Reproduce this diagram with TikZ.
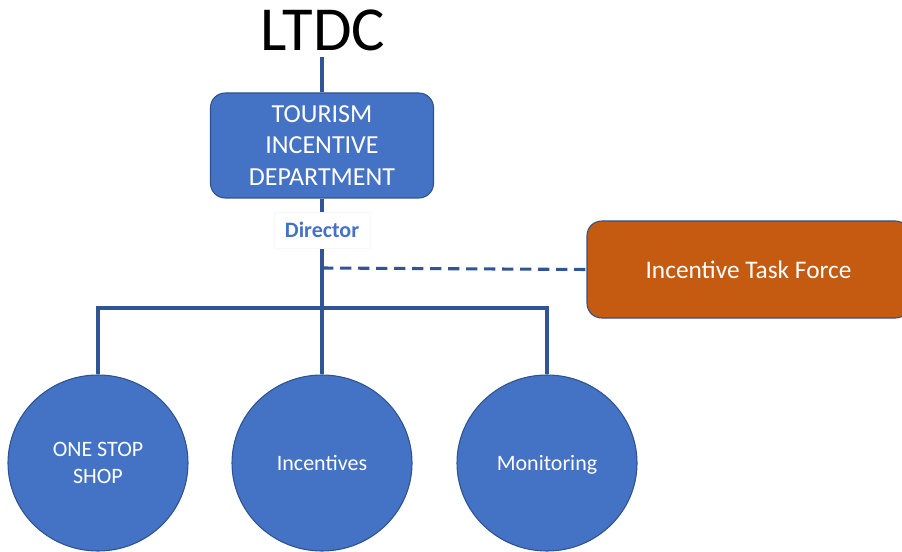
\documentclass[tikz,border=0pt]{standalone}
\usepackage{fontspec}
\setmainfont{Carlito}
\usetikzlibrary{shapes.geometric}
\begin{document}
\definecolor{unitblue}{HTML}{4472C4}
\definecolor{unitedge}{HTML}{2F528F}
\definecolor{linkblue}{HTML}{2F5597}
\definecolor{taskorange}{HTML}{C55A11}
\begin{tikzpicture}[x=0.75pt,y=-0.75pt,
  link/.style={draw=linkblue,line width=2.3pt},
  dashlink/.style={link,dash pattern=on 8.5pt off 5pt},
  deptbox/.style={draw=unitedge,line width=0.8pt,fill=unitblue,rounded corners=11pt,
    minimum width=223*0.75pt,minimum height=105*0.75pt,text=white,align=center,
    font=\fontsize{19.5}{23.5}\selectfont},
  taskbox/.style={draw=unitedge,line width=0.8pt,fill=taskorange,rounded corners=11pt,
    minimum width=323*0.75pt,minimum height=97*0.75pt,text=white,
    font=\fontsize{19}{22}\selectfont},
  unit/.style={ellipse,draw=unitedge,line width=0.8pt,fill=unitblue,
    minimum width=180*0.75pt,minimum height=176*0.75pt,text=white,align=center,
    font=\fontsize{16.5}{20.5}\selectfont},
  oneline/.style={text height=10.6pt,text depth=0pt},
  rolelabel/.style={fill=white,draw=black!3,line width=0.5pt,minimum width=96*0.75pt,
    minimum height=36*0.75pt,text=unitblue,font=\fontsize{16.5}{19}\selectfont\bfseries}]
\useasboundingbox (0,0) rectangle (902,552);

% heading and department
\node[font=\fontsize{47}{52}\selectfont,inner sep=0pt] (ltdc) at (323,30) {LTDC};
\node[deptbox] (dept) at (322,145.5) {TOURISM\\INCENTIVE\\DEPARTMENT};
\coordinate (top) at (322,57);

% side task force
\node[taskbox] (itf) at (748.5,269.5) {Incentive Task Force};

% operating units
\node[unit] (c1) at (98,463) {ONE STOP\\SHOP};
\node[unit,oneline] (c2) at (322,463) {Incentives};
\node[unit,oneline] (c3) at (547,463) {Monitoring};

% reporting lines
\coordinate (j) at (322,308);
\coordinate (d) at (322,268);
\draw[link] (top) -- (dept.north);
\draw[link] (dept.south) -- (j);
\draw[dashlink] (d) -- (itf.west);
\draw[link] (c1.north) -- (c1.north |- j) -- (c3.north |- j) -- (c3.north);
\draw[link] (j) -- (c2.north);

% role label over the line
\node[rolelabel] (dir) at (322,230) {Director};
\end{tikzpicture}
\end{document}
